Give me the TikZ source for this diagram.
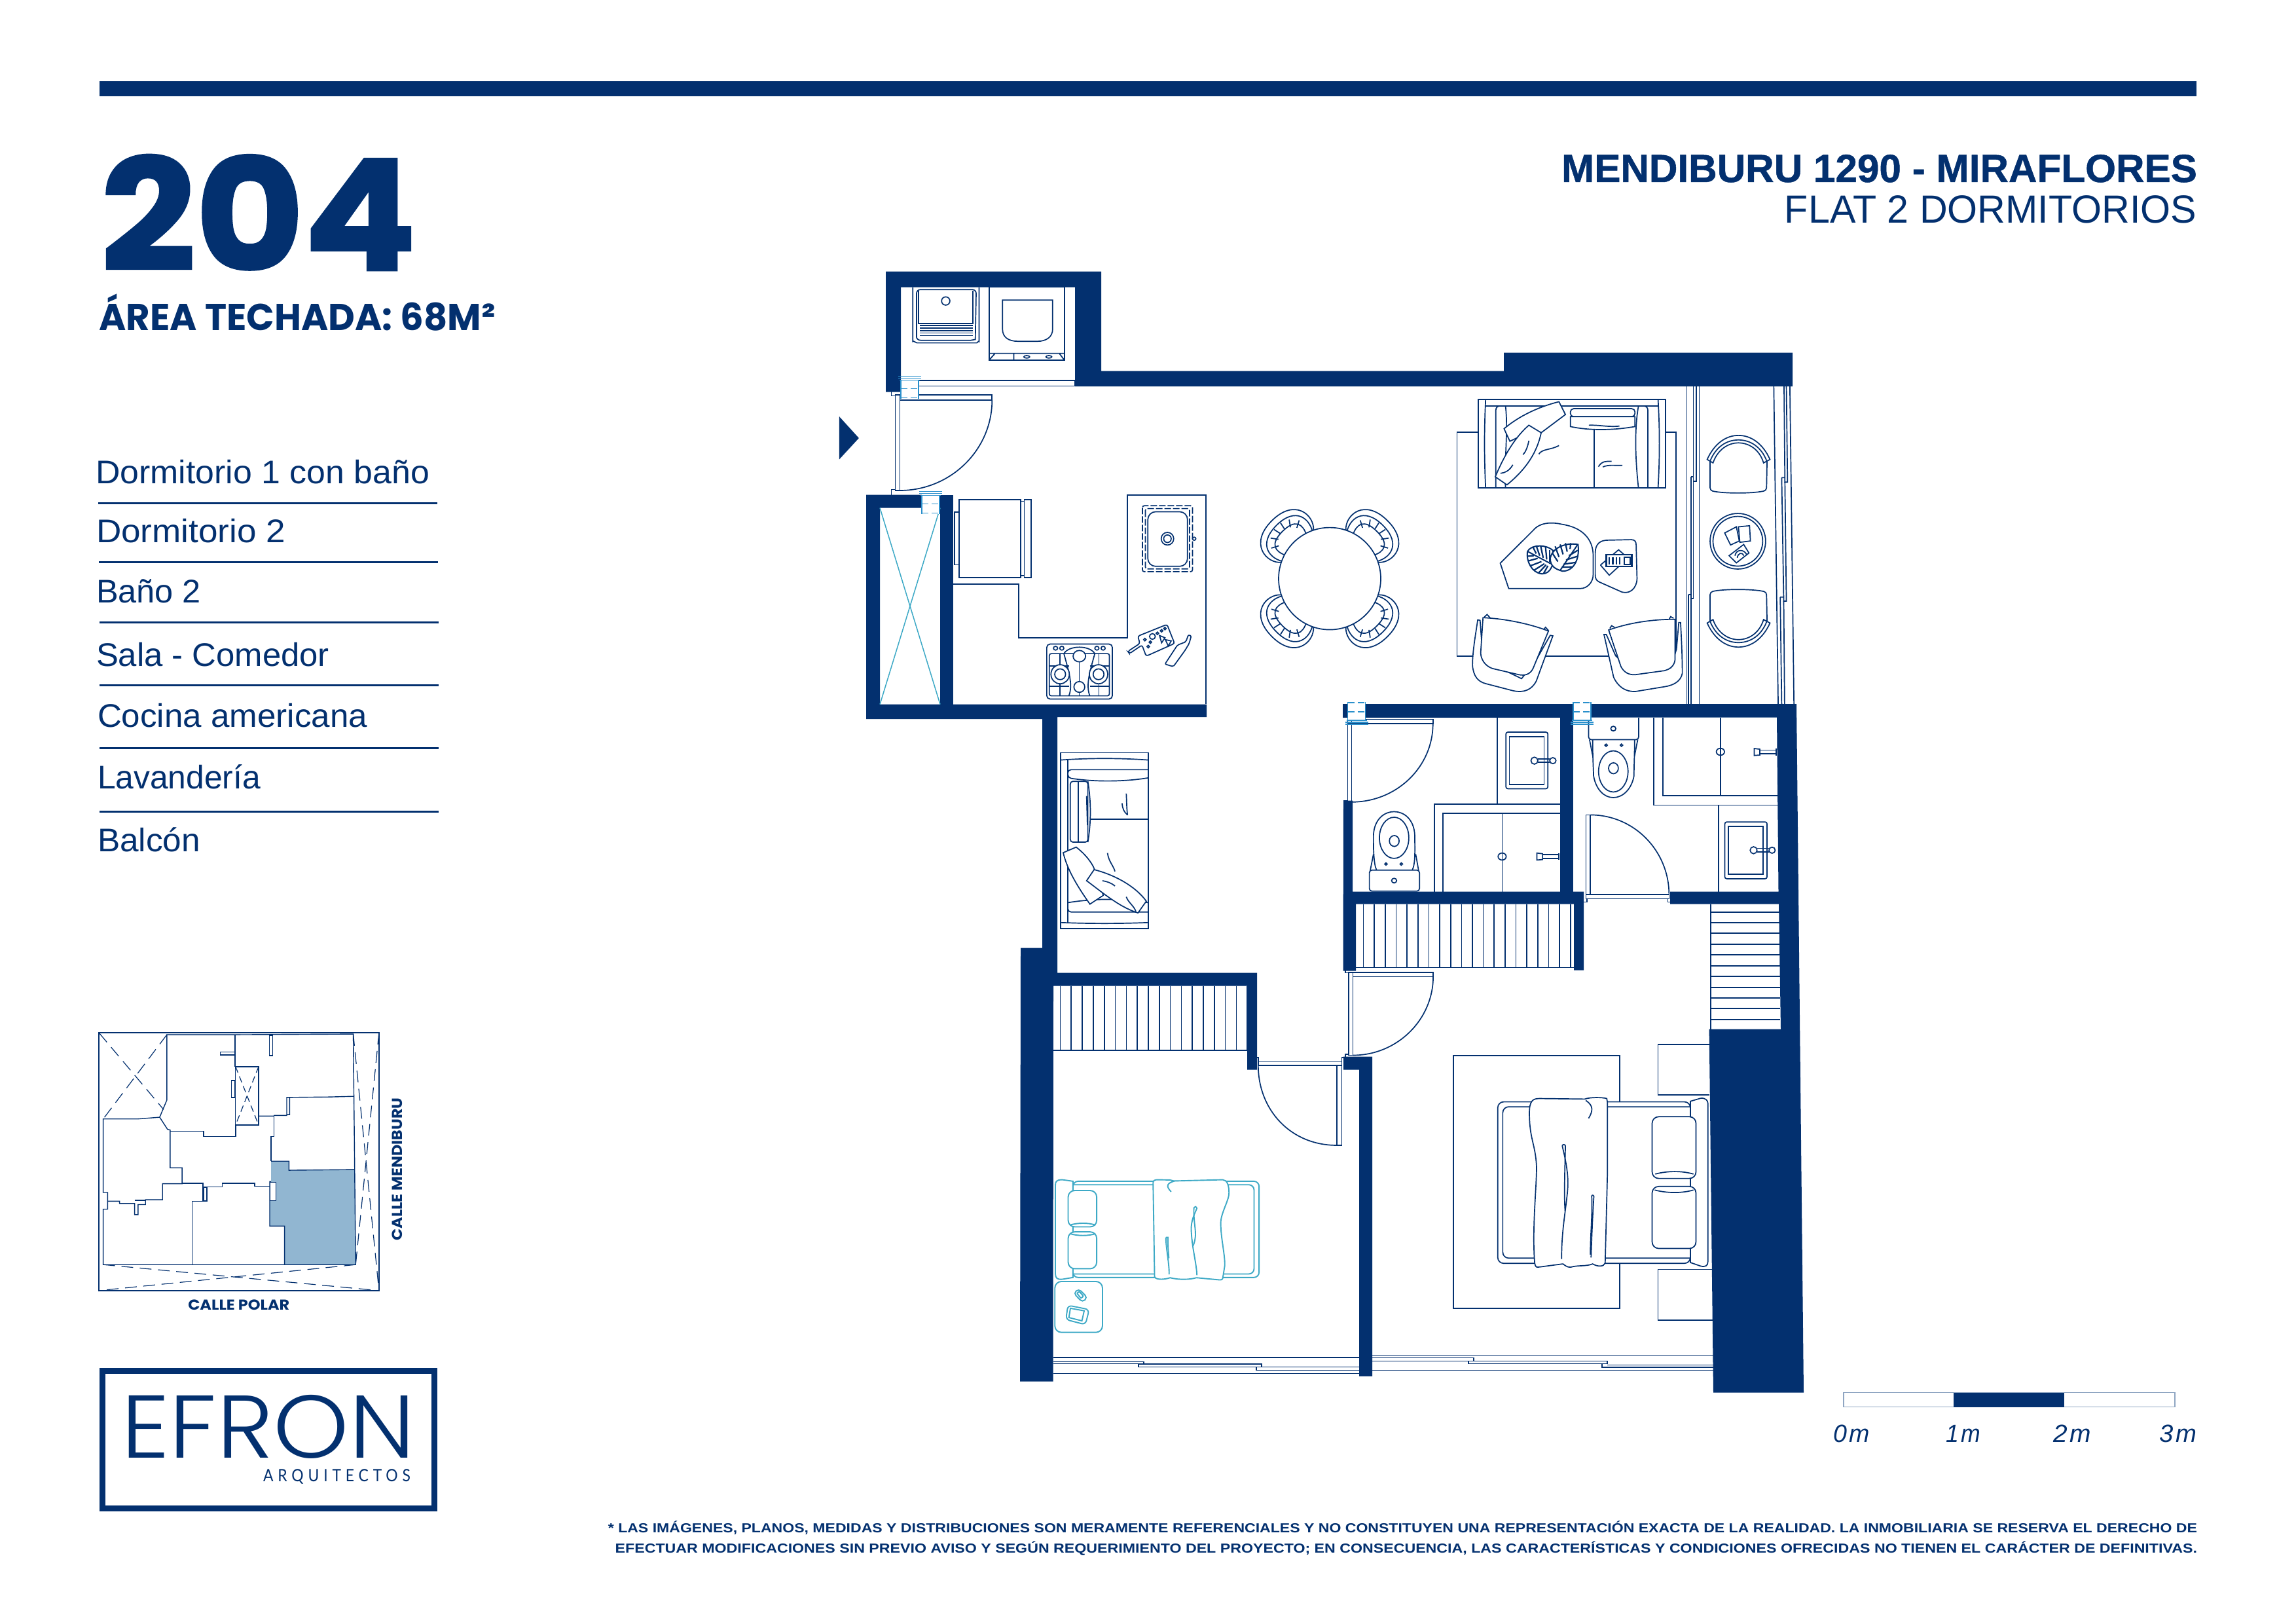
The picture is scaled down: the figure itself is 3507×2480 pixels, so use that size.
\documentclass[tikz,border=0pt]{standalone}
\usepackage{fontspec}
\usepackage{graphicx}
\setmainfont{Liberation Sans}
\newfontfamily\popfont[FakeBold=1.6]{Poppins Bold}
\newfontfamily\popbold{Poppins}[BoldFont=* Bold]
\newfontfamily\logofont{Poppins Light}
\newfontfamily\arqfont{Lato}
\newfontfamily\headfont[FakeBold=0.8]{Liberation Sans Bold}
\newcommand\fitw[2]{\resizebox{#1pt}{\height}{#2}}
\definecolor{navy}{HTML}{03306F}
\definecolor{tealc}{HTML}{3DA9C6}
\definecolor{fixc}{HTML}{2A90CC}
\definecolor{siteblue}{HTML}{91B6D1}
\definecolor{barline}{HTML}{8FA5C2}
\tikzset{
 z1/.style={shift={(1250,380)},x=.6378pt,y=-.4847pt},
 z2/.style={shift={(2150,500)},x=.4464pt,y=-.4082pt},
 z3/.style={shift={(1550,1080)},x=.6378pt,y=-.4464pt},
 z4/.style={shift={(2050,1060)},x=.4783pt,y=-.3571pt},
 z5/.style={shift={(1550,1560)},x=.3827pt,y=-.3827pt},
 z6/.style={shift={(2050,1500)},x=.4783pt,y=-.4209pt},
 z7/.style={shift={(130,1560)},x=.3330pt,y=-.3360pt},
 wall/.style={fill=navy,draw=none},
 ln/.style={draw=navy,line width=1.7pt},
 lnf/.style={draw=navy,line width=1.7pt,fill=white},
 tl/.style={draw=tealc,line width=1.9pt},
 tlf/.style={draw=tealc,line width=1.9pt,fill=white},
 txt/.style={inner sep=0pt,outer sep=0pt,text=navy,anchor=base west},
 txe/.style={inner sep=0pt,outer sep=0pt,text=navy,anchor=base east},
}
\newcommand\bfix[3]{\begin{scope}[shift={(#1,#2)},yscale=#3]
 \fill[white] (0,6) rectangle (27,34);
 \draw[fixc,line width=1.6pt] (-4,0)--(31,0) (-4,3)--(31,3) (-2,6)--(29,6);
 \draw[fixc,line width=1.6pt] (0,6)--(0,34) (27,6)--(27,34);
 \draw[fixc,line width=1.6pt,dash pattern=on 10pt off 5pt] (0,19)--(27,19) (0,33)--(27,33);
\end{scope}}
\newcommand\balchair{
 \draw[ln,rounded corners=4pt] (1035,497)--(1035,606)..controls (1080,618) and (1180,618) .. (1228,606)--(1230,497);
 \draw[lnf] (1025,490) .. controls (1050,430) and (1090,400) .. (1132,400) .. controls (1175,400) and (1215,430) .. (1240,490)--(1218,503) .. controls (1205,455) and (1170,428) .. (1132,428) .. controls (1095,428) and (1060,455) .. (1045,503)--cycle;
 \draw[ln] (1035,496) .. controls (1055,442) and (1092,417) .. (1132,417) .. controls (1172,417) and (1210,442) .. (1229,496);
}
\newcommand\dchair{
 \draw[ln] (70,35) .. controls (85,52) and (125,50) .. (125,0) .. controls (125,-50) and (85,-52) .. (70,-35);
 \draw[ln] (66,30) .. controls (85,44) and (115,42) .. (115,0) .. controls (115,-42) and (85,-44) .. (66,-30)--(70,-35);
 \draw[ln] (66,30)--(70,35);
 \draw[ln] (72,22) .. controls (88,30) and (102,28) .. (102,0) .. controls (102,-28) and (88,-30) .. (72,-22);
 \foreach \a in {-62,-36,-12,12,36,62}{\draw[ln] ($(80,0)+(\a:22)$)--($(80,0)+(\a:34)$);}
}
\usetikzlibrary{calc}
\begin{document}
\begin{tikzpicture}[x=1pt,y=-1pt,line join=miter]
\useasboundingbox (0,0) rectangle (3507,2480);
\fill[white] (0,0) rectangle (3507,2480);
\begin{scope}[yshift=-1.6pt]
% header
\fill[navy] (152,122) rectangle (3355,145);
\node[txt] (num) at (154,411) {\popfont\fontsize{236}{236}\selectfont\fitw{482}{204}};
\node[txt] (area) at (151.6,502.7) {\popbold\bfseries\fontsize{57}{60}\selectfont\fitw{605}{ÁREA TECHADA: 68M²}};
\node[txe] (t1) at (3356,276.4) {\headfont\fontsize{60}{60}\selectfont\fitw{971}{MENDIBURU 1290 - MIRAFLORES}};
\node[txe] (t2) at (3355,339.4) {\fontsize{60}{60}\selectfont\fitw{629}{FLAT 2 DORMITORIOS}};
% list
\tikzset{lst/.style={txt,font=\fontsize{50}{50}\selectfont}}
\node[lst] (l1) at (146,737) {\fitw{510}{Dormitorio 1 con baño}};
\node[lst] (l2) at (147,827) {\fitw{289}{Dormitorio 2}};
\node[lst] (l3) at (147,919) {\fitw{160}{Baño 2}};
\node[lst] (l4) at (147,1016) {\fitw{356}{Sala - Comedor}};
\node[lst] (l5) at (149,1109) {\fitw{412}{Cocina americana}};
\node[lst] (l6) at (149,1203) {\fitw{249}{Lavandería}};
\node[lst] (l7) at (149,1299) {\fitw{157}{Balcón}};
\draw[navy,line width=3pt] (150,766.5)--(668,766.5) (151,857)--(669,857) (152,949)--(670,949) (152,1044.6)--(670,1044.6) (152,1141)--(670,1141) (152,1238)--(670,1238);

% ---------- walls
\fill[wall] (1353,413)--(1682,413)--(1682,565)--(2297,565)--(2297,537)--(2738,537)--(2738,588.6)--(1642,588.6)--(1642,437)--(1376,437)--(1376,597)--(1353,597)--cycle;
\fill[wall] (1323,754)--(1408,754)--(1408,774)--(1344,774)--(1344,1074)--(1843,1074)--(1843,1093.5)--(1615,1093.5)--(1615,1484)--(1920,1484)--(1920,1632)--(1905,1632)--(1905,1504)--(1609,1504)--(1608.5,2108)--(1558,2108)--(1559,1446)--(1592,1446)--(1592,1096.5)--(1323,1096.5)--cycle;
\fill[wall] (1436,754) rectangle (1456,1074);
\fill[wall] (2052,1612)--(2096,1612)--(2096,2100)--(2076,2100)--(2076,1632)--(2052,1632)--cycle;
\fill[wall] (2051,1073.6) rectangle (2403,1094);
\fill[wall] (2383,1094) rectangle (2403,1360);
\fill[wall] (2052,1221)--(2066,1221)--(2066,1360)--(2419,1360)--(2419,1480)--(2404,1480)--(2404,1379)--(2071,1379)--(2071,1481)--(2051.5,1481)--cycle;
\fill[wall] (2430,1073.6)--(2744,1073.6)--(2755,2125)--(2617,2125)--(2610.6,1570)--(2720,1570)--(2717,1379)--(2551,1379)--(2551,1360)--(2716.5,1360)--(2714,1094)--(2430,1094)--cycle;

% ---------- z1: laundry, entry, kitchen, dining
\begin{scope}[z1]
 % entry mark
 \fill[navy] (50,525)--(97,593)--(50,660)--cycle;
 % laundry sink
 \draw[ln,rounded corners=9pt] (226,118)--(226,270) .. controls (226,285) and (235,293) .. (250,293)--(365,293) .. controls (380,293) and (385,285) .. (385,270)--(385,118);
 \draw[ln,rounded corners=6pt] (235,125)--(378,125)--(376,270) .. controls (376,282) and (365,285) .. (355,285)--(255,285) .. controls (240,285) and (235,280) .. (235,262)--cycle;
 \draw[ln] (240,128)--(240,232)--(370,232)--(370,128);
 \foreach \y in {238,246,254,262,270}{\draw[ln] (243,\y)--(370,\y);}
 \draw[ln] (305,161) ellipse [x radius=10,y radius=13];
 % washer
 \draw[ln] (409,117) rectangle (589,347);
 \draw[ln] (409,326)--(589,326) (468,326)--(468,347) (409,347)--(422,328) (589,347)--(578,328);
 \draw[ln] (441,158)--(561,158)--(561,250) .. controls (561,275) and (545,288) .. (525,288)--(478,288) .. controls (455,288) and (441,275) .. (441,250)--cycle;
 \draw[ln] (499,337) ellipse [x radius=7,y radius=4] (552,337) ellipse [x radius=7,y radius=4];
 % laundry sill
 \draw[ln] (240,411) rectangle (615,429);
 % entry door
 \draw[ln] (184,457) rectangle (195,758);
 \draw[ln] (184,460)--(175,460)--(175,447) (184,755)--(175,755)--(175,772);
 \draw[ln] (195,457) rectangle (416,473);
 \draw[ln] (416,473) .. controls (416,630) and (317,758) .. (195,758);
 % fridge
 \draw[ln] (337,787) rectangle (484,1032);
 \draw[ln] (493,787) rectangle (509,1032);
 \draw[ln] (484,792)--(493,792) (484,1026)--(493,1026);
 \draw[ln] (326,826) rectangle (337,992);
 % counter
 \draw[ln] (323,1053)--(480,1053)--(480,1222)--(740,1222)--(740,772)--(928,772)--(928,1431);
 % kitchen sink
 \draw[ln,dashed,dash pattern=on 10pt off 3pt,rounded corners=3pt] (776,806) rectangle (896,1014);
 \draw[ln,dashed,dash pattern=on 10pt off 3pt,rounded corners=3pt] (783,815) rectangle (889,1005);
 \draw[lnf,rounded corners=12pt] (789,825) rectangle (884,997);
 \draw[ln] (836,910) ellipse [x radius=15,y radius=20] (836,910) ellipse [x radius=9,y radius=12];
 \draw[ln] (900,910) ellipse [x radius=4,y radius=5];
 % hob
 \draw[ln,rounded corners=5pt] (547,1242) rectangle (704,1415);
 \draw[ln,rounded corners=3pt] (553,1272) rectangle (697,1405);
 \foreach \x in {568,583,667,682}{\draw[ln] (\x,1255) ellipse [x radius=5,y radius=6];}
 \draw[ln] (588,1272) .. controls (600,1330) and (610,1370) .. (600,1405);
 \draw[ln] (662,1272) .. controls (650,1330) and (640,1370) .. (650,1405);
 \draw[ln] (588,1272) .. controls (600,1245) and (650,1245) .. (662,1272);
 \draw[ln] (553,1311)--(600,1311) (650,1311)--(697,1311) (553,1375)--(600,1375) (650,1375)--(697,1375) (578,1272)--(578,1405) (672,1272)--(672,1405) (625,1272)--(625,1405);
 \draw[lnf] (625,1280) ellipse [x radius=15,y radius=18];
 \draw[lnf] (579,1337) ellipse [x radius=22,y radius=30];
 \draw[ln] (579,1337) ellipse [x radius=13,y radius=17];
 \draw[lnf] (671,1337) ellipse [x radius=22,y radius=30];
 \draw[ln] (671,1337) ellipse [x radius=13,y radius=17];
 \draw[lnf] (625,1377) ellipse [x radius=13,y radius=17];
 % board + bottle
 \draw[ln,rounded corners=3pt] (765,1217)--(835,1180)--(853,1240)--(785,1280)--(775,1245)--(745,1272)--(741,1265)--(770,1240)--cycle;
 \foreach \p/\q in {790/1250,782/1228,812/1208,822/1200,830/1193,795/1236}{\draw[ln] (\p,\q) ellipse [x radius=3,y radius=4];}
 \draw[ln] (800,1218) ellipse [x radius=7,y radius=9];
 \draw[ln] (817,1215)--(830,1222)--(822,1238)--cycle (831,1228)--(845,1232)--(838,1248)--cycle;
 \draw[ln,rounded corners=2pt] (830,1305)--(860,1245)--(880,1235)--(886,1213)--(893,1216)--(888,1240)--(878,1262)--(850,1313)--cycle;
\end{scope}
\begin{scope}[shift={(2031,882)},rotate=45]\dchair\end{scope}
\begin{scope}[shift={(2031,882)},rotate=135]\dchair\end{scope}
\begin{scope}[shift={(2031,882)},rotate=225]\dchair\end{scope}
\begin{scope}[shift={(2031,882)},rotate=-45]\dchair\end{scope}
\draw[lnf] (2031,882) circle (78);
\draw[tl,line width=1.5pt] (1344,774)--(1436,1074) (1436,774)--(1344,1074);
\bfix{1376}{573}{1}
\bfix{1408}{749}{1}

% ---------- z2: living, balcony
\begin{scope}[z2]
 \draw[ln] (169,388) rectangle (919,1225);
 % balcony sliding systems
 \draw[ln] (953,217)--(953,1405) (998,217)--(998,1405);
 \draw[ln] (978,217)--(978,572)--(988,572)--(988,217);
 \draw[ln] (970,555)--(978,555) (970,555)--(970,1010)--(978,1010)--(978,572);
 \draw[ln] (961,995)--(970,995) (961,995)--(961,1405) (970,1010)--(970,1405);
 \draw[ln] (1253,217)--(1268,1405) (1308,217)--(1322,1405);
 \draw[ln] (1288,217)--(1291,575)--(1300,575)--(1296,217);
 \draw[ln] (1280,558)--(1291,558) (1280,558)--(1287,1020)--(1296,1020)--(1291,575);
 \draw[ln] (1275,1005)--(1287,1005) (1275,1005)--(1280,1405) (1287,1020)--(1290,1405);
 % sofa
 \draw[lnf] (242,265) rectangle (883,597);
 \draw[ln] (267,290)--(857,290);
 \draw[ln] (267,265) .. controls (262,380) and (262,480) .. (267,597);
 \draw[ln] (857,265) .. controls (863,380) and (863,480) .. (857,597);
 \draw[ln,rounded corners=6pt] (302,597)--(302,290)--(822,290)--(822,597);
 \draw[ln] (335,290) .. controls (345,380) and (330,500) .. (335,597);
 \draw[ln] (790,290) .. controls (775,380) and (780,500) .. (790,597);
 \draw[ln] (639,375)--(639,597);
 \draw[lnf,rounded corners=5pt] (557,300) rectangle (778,330);
 \draw[lnf] (557,330)--(778,330)--(778,367) .. controls (700,382) and (620,382) .. (557,367)--cycle;
 \draw[ln] (620,362) .. controls (650,360) and (690,370) .. (725,365);
 \draw[ln] (449,470) .. controls (460,450) and (490,455) .. (518,438);
 \draw[ln] (653,517) .. controls (665,495) and (680,497) .. (698,497);
 \draw[ln] (668,518) .. controls (690,508) and (710,514) .. (735,512);
 \draw[lnf] (330,375) .. controls (390,320) and (460,290) .. (518,274)--(540,322)--(457,390)--(430,380)--(350,422)--cycle;
 \draw[lnf] (300,555) .. controls (340,450) and (380,395) .. (415,362)--(457,390) .. controls (440,480) and (390,540) .. (340,585)--cycle;
 \draw[ln] (415,420) .. controls (410,445) and (405,460) .. (395,472);
 \draw[ln] (360,510) .. controls (350,530) and (335,540) .. (318,542);
 % coffee tables
 \draw[lnf] (317,878)--(430,755) .. controls (455,722) and (500,725) .. (530,733) .. controls (600,745) and (635,790) .. (635,850)--(635,920) .. controls (635,950) and (615,973) .. (590,973)--(346,973)--cycle;
 \draw[lnf] (642,840) .. controls (642,805) and (660,792) .. (685,792)--(765,790) .. controls (778,790) and (782,798) .. (782,810)--(785,935) .. controls (785,975) and (755,1000) .. (725,982)--(655,948) .. controls (645,942) and (642,935) .. (642,920)--cycle;
 % leaves
 \draw[lnf,line width=2pt] (410,835) .. controls (420,810) and (470,805) .. (497,830) .. controls (505,880) and (490,918) .. (460,918) .. controls (425,915) and (405,870) .. (410,835)--cycle;
 \draw[ln,line width=2pt] (412,835)--(490,880);
 \foreach \a/\b/\c/\d in {428/816/440/842, 440/812/452/850, 455/812/464/858, 472/818/476/864, 486/828/486/872, 412/852/432/850, 412/870/445/860, 420/888/458/872, 432/905/468/880, 448/915/474/884, 465/917/480/888}{\draw[ln,line width=2.2pt] (\a,\b)--(\c,\d);}
 \draw[lnf,line width=2pt] (488,860) .. controls (495,820) and (540,800) .. (583,808) .. controls (590,860) and (570,908) .. (530,908) .. controls (505,900) and (488,890) .. (488,860)--cycle;
 \draw[ln,line width=2pt] (581,810)--(522,905);
 \foreach \a/\b/\c/\d in {505/815/518/855, 522/808/532/845, 540/803/546/835, 558/803/556/825, 495/840/514/872, 582/830/552/850, 582/852/542/866, 576/875/534/882, 566/892/528/893}{\draw[ln,line width=2.2pt] (\a,\b)--(\c,\d);}
 % book
 \draw[ln] (660,885)--(722,828)--(745,850) (660,885)--(690,923)--(722,891);
 \draw[lnf,line width=2.2pt] (680,846) rectangle (767,891);
 \foreach \x in {690,702,714,726}{\draw[ln,line width=2.4pt] (\x,855)--(\x,882);}
 \draw[ln,line width=2.2pt] (742,855) rectangle (762,882);
 % armchairs
 \draw[lnf] (240,1090)--(248,1092)--(258,1240)--(390,1310)--(440,1240)--(488,1148)--(497,1150)--(440,1320) .. controls (425,1350) and (400,1365) .. (360,1355)--(265,1328) .. controls (240,1320) and (225,1300) .. (222,1260) .. controls (222,1210) and (232,1150) .. (240,1090)--cycle;
 \draw[ln] (262,1080)--(272,1070)--(282,1082) (465,1126)--(472,1118)--(482,1130);
 \draw[lnf] (258,1082) .. controls (330,1085) and (420,1105) .. (482,1132)--(430,1270) .. controls (420,1295) and (400,1300) .. (380,1295)--(290,1272) .. controls (265,1262) and (252,1240) .. (250,1215)--cycle;
 \draw[lnf] (928,1100)--(934,1100) .. controls (938,1180) and (940,1240) .. (940,1290) .. controls (935,1320) and (910,1335) .. (880,1340)--(780,1358) .. controls (745,1360) and (720,1340) .. (705,1305)--(672,1145)--(680,1145)--(712,1225)--(780,1290)--(900,1270)--(920,1200)--cycle;
 \draw[ln] (692,1122)--(698,1112)--(708,1118) (895,1088)--(900,1078)--(910,1084);
 \draw[lnf] (688,1128) .. controls (760,1100) and (840,1088) .. (915,1088)--(915,1240) .. controls (912,1265) and (895,1275) .. (880,1280)--(780,1295) .. controls (755,1297) and (740,1285) .. (730,1265)--cycle;
 % balcony furniture
 \balchair
 \begin{scope}[shift={(0,1592)},yscale=-1]\balchair\end{scope}
 \draw[ln] (1130,796) ellipse [x radius=95,y radius=104] (1130,796) ellipse [x radius=85,y radius=93];
 \draw[ln] (1085,765)--(1125,742)--(1135,795)--(1105,810)--cycle;
 \draw[lnf] (1132,742)--(1170,738)--(1173,795)--(1137,800)--cycle;
 \draw[ln] (1100,850)--(1150,808)--(1168,840)--(1125,877)--cycle;
 \draw[ln] (1120,850) .. controls (1125,825) and (1150,825) .. (1160,845) (1128,858) .. controls (1130,840) and (1145,835) .. (1150,850);
\end{scope}

% ---------- z3: sofa 2
\begin{scope}[z3]
 \draw[ln] (110,152) rectangle (320,753);
 \draw[ln] (110,177) .. controls (180,170) and (250,170) .. (320,177);
 \draw[ln] (110,733) .. controls (180,737) and (250,737) .. (320,733);
 \draw[ln] (127,177)--(127,733);
 \draw[ln,rounded corners=5pt] (320,210)--(127,210)--(127,238) .. controls (190,252) and (260,252) .. (320,238);
 \draw[ln] (127,665) .. controls (190,650) and (260,650) .. (320,665);
 \draw[ln,rounded corners=5pt] (127,665)--(127,697)--(320,697);
 \draw[ln] (180,380)--(320,380);
 \draw[lnf,rounded corners=4pt] (133,250) rectangle (175,458);
 \draw[ln] (152,250)--(152,458) (175,250) .. controls (183,320) and (183,390) .. (175,458) (172,300)--(174,400);
 \draw[ln] (267,292) .. controls (268,320) and (268,345) .. (270,365);
 \draw[ln] (257,325) .. controls (258,345) and (262,355) .. (270,365);
 \draw[ln] (222,495) .. controls (225,525) and (235,535) .. (240,558);
 \draw[lnf] (116,494)--(147,475) .. controls (170,500) and (185,530) .. (190,548)--(212,640)--(180,670) .. controls (150,610) and (125,550) .. (116,494)--cycle;
 \draw[lnf] (172,590)--(190,552) .. controls (240,570) and (290,610) .. (315,660)--(295,700) .. controls (250,680) and (210,630) .. (172,590)--cycle;
 \draw[ln] (210,590) .. controls (220,592) and (232,598) .. (240,608);
 \draw[ln] (267,645) .. controls (272,665) and (285,675) .. (290,695);
\end{scope}

% ---------- z3: doors & closet dorm 2
\begin{scope}[z3]
 % closet
 \foreach \i in {0,...,17}{\pgfmathsetmacro\xx{109+\i*26.35}\draw[ln] (\xx,950)--(\xx,1170);}
 \draw[ln] (92,1170)--(557,1170);
 % door to dorm 2
 \draw[ln] (583,1207) rectangle (783,1222);
 \draw[ln] (771,1222) rectangle (783,1495);
 \draw[ln] (583,1222) .. controls (583,1373) and (660,1495) .. (771,1495);
 \draw[ln] (583,1207)--(583,1195)--(578,1195) (783,1207)--(783,1195)--(787,1195);
 % upper door dorm 1
 \draw[ln] (800,903) rectangle (810,1187);
 \draw[ln] (810,903) rectangle (1002,918);
 \draw[ln] (1002,918) .. controls (1002,1065) and (916,1187) .. (810,1187);
 \draw[ln] (800,905)--(792,905)--(792,897) (800,1184)--(792,1184)--(792,1192);
\end{scope}

% ---------- z4: bathrooms
\begin{scope}[z4]
 % door bath 1
 \draw[ln] (18,105) rectangle (30,457);
 \draw[ln] (18,103) rectangle (290,122);
 \draw[ln] (290,122) .. controls (290,307) and (174,457) .. (30,457);
 \draw[ln] (18,452)--(5,452)--(5,460);
 % counter + closet bath 1
 \draw[ln] (495,95)--(495,466) (295,840)--(295,466)--(696,466);
 \draw[ln] (322,840)--(322,505)--(696,505) (511,505)--(511,840);
 \draw[ln] (511,690) ellipse [x radius=13,y radius=15];
 \draw[ln] (622,675)--(640,678)--(640,703)--(622,705)--cycle;
 \draw[ln] (640,682)--(692,682) (640,698)--(692,698) (692,675)--(692,705);
 \draw[ln,rounded corners=3pt] (523,158) rectangle (657,400);
 \draw[ln] (534,178) rectangle (645,381);
 \draw[ln] (625,272)--(663,272) (625,287)--(663,287);
 \draw[lnf] (614,280) ellipse [x radius=11,y radius=15];
 \draw[lnf] (673,280) ellipse [x radius=10,y radius=13];
 % toilet bath 1
 \draw[ln,rounded corners=4pt] (87,838)--(87,748)--(247,748)--(247,838)--cycle;
 \draw[ln] (166,793) ellipse [x radius=8,y radius=10];
 \draw[ln] (90,748)--(100,680) (244,748)--(235,680);
 \draw[ln] (110,748) .. controls (100,720) and (100,650) .. (100,600) .. controls (102,530) and (135,498) .. (166,498) .. controls (197,498) and (230,530) .. (232,600) .. controls (232,650) and (235,720) .. (224,748);
 \draw[ln] (166,610) ellipse [x radius=47,y radius=88];
 \draw[ln,rounded corners=8pt] (151,600) rectangle (182,647);
 \draw[ln] (140,722) ellipse [x radius=4,y radius=5] (189,722) ellipse [x radius=4,y radius=5];
 % toilet bath 2
 \draw[ln,rounded corners=4pt] (787,97)--(787,190)--(947,190)--(947,97);
 \draw[ln] (866,143) ellipse [x radius=8,y radius=10];
 \draw[ln] (790,190)--(800,258) (944,190)--(934,258);
 \draw[ln] (800,190) .. controls (800,260) and (802,300) .. (803,345) .. controls (810,400) and (835,438) .. (866,438) .. controls (897,438) and (925,400) .. (932,345) .. controls (932,300) and (934,260) .. (934,190);
 \draw[ln] (866,326) ellipse [x radius=47,y radius=88];
 \draw[ln,rounded corners=8pt] (851,289) rectangle (882,336);
 \draw[ln] (843,214) ellipse [x radius=4,y radius=5] (892,214) ellipse [x radius=4,y radius=5];
 % closet + sink bath 2
 \draw[ln] (995,95)--(995,470)--(1392,470) (1025,95)--(1025,430)--(1390,430) (1208,95)--(1208,430) (1202,470)--(1202,840);
 \draw[ln] (1208,242) ellipse [x radius=13,y radius=15];
 \draw[ln] (1316,228)--(1334,231)--(1334,256)--(1316,258)--cycle;
 \draw[ln] (1334,235)--(1386,235) (1334,251)--(1386,251) (1386,228)--(1386,258);
 \draw[ln,rounded corners=3pt] (1222,542) rectangle (1357,785);
 \draw[ln] (1234,562) rectangle (1345,765);
 \draw[ln] (1325,655)--(1363,655) (1325,670)--(1363,670);
 \draw[lnf] (1314,663) ellipse [x radius=11,y radius=15];
 \draw[lnf] (1373,663) ellipse [x radius=10,y radius=13];
 % door bath 2
 \draw[ln] (779,512) rectangle (793,853);
 \draw[ln] (793,512) .. controls (932,512) and (1044,665) .. (1044,853);
 \draw[ln] (779,853) rectangle (1044,871);
 \draw[ln] (771,885)--(782,885)--(782,871) (1047,885)--(1040,885)--(1040,871);
 % closet dorm 1
 \foreach \i in {0,...,19}{\pgfmathsetmacro\xx{68+\i*34.8}\draw[ln] (\xx,893)--(\xx,1165);}
 \draw[ln] (44,1165)--(741,1165);
 % closet right horizontal
 \draw[ln] (1177,893)--(1177,1428);
 \foreach \y in {928,973,1018,1066,1110,1157,1203,1250,1295,1340,1387}{\draw[ln] (1177,\y)--(1398,\y);}
\end{scope}
\bfix{2058.6}{1104.6}{-1}
\bfix{2403}{1104.6}{-1}

% ---------- z5: dorm 2 bed (teal), window
\begin{scope}[z5]
 \draw[tlf,rounded corners=8pt] (232,633)--(975,633)--(975,1017)--(232,1017)--cycle;
 \draw[tl,rounded corners=8pt] (232,647)--(955,647)--(955,1003)--(232,1003);
 \draw[tlf] (232,633)--(190,627) .. controls (165,627) and (162,635) .. (162,650)--(162,1002) .. controls (162,1020) and (170,1026) .. (190,1024)--(232,1017)--cycle;
 \draw[tlf,rounded corners=10pt] (213,670) rectangle (327,815);
 \draw[tl] (220,808) .. controls (250,798) and (295,798) .. (322,808);
 \draw[tlf,rounded corners=10pt] (213,835) rectangle (327,982);
 \draw[tl] (220,842) .. controls (250,852) and (295,852) .. (322,842);
 \draw[tlf] (552,640) .. controls (552,628) and (560,627) .. (575,627)--(620,628)--(635,632)--(830,627) .. controls (848,628) and (855,650) .. (855,680) .. controls (855,710) and (822,760) .. (822,800) .. controls (822,860) and (840,930) .. (838,970)--(830,1020) .. controls (828,1028) and (820,1027) .. (810,1026)--(725,1018) .. controls (700,1025) and (660,1028) .. (620,1018) .. controls (600,1025) and (565,1028) .. (558,1015)--cycle;
 \draw[tl] (638,632) .. controls (610,640) and (600,650) .. (624,675);
 \draw[tl] (727,740) .. controls (720,760) and (700,790) .. (705,840) .. controls (708,900) and (725,960) .. (727,1008);
 \draw[tl] (715,738) .. controls (712,790) and (725,830) .. (720,860) .. controls (718,875) and (714,885) .. (712,890);
 \draw[tl] (715,738) .. controls (718,733) and (727,733) .. (727,740);
 \draw[tl] (603,857) .. controls (603,900) and (617,960) .. (616,1005);
 \draw[tl] (603,857)--(611,857) .. controls (611,890) and (613,920) .. (615,940);
 \draw[tl,rounded corners=10pt] (160,1033) rectangle (350,1236);
 \draw[tl,rounded corners=5pt] (235,1080)--(255,1062)--(290,1097)--(270,1116)--cycle;
 \draw[tl,rounded corners=1pt] (248,1080)--(258,1073)--(274,1092)--(264,1100)--cycle;
 \draw[tl,rounded corners=6pt] (212,1128)--(297,1145)--(282,1205)--(204,1185)--cycle;
 \draw[tl] (222,1140)--(277,1150)--(268,1190)--(216,1177)--cycle;
\end{scope}
% windows
\draw[ln] (1608.5,2071.7)--(2076,2071.7) (1608.5,2095.8)--(2076,2095.8);
\draw[ln] (1608.5,2077.8)--(1747,2077.8)--(1747,2081)--(1608.5,2081);
\draw[ln] (1739,2081.6) rectangle (1927,2086);
\draw[ln] (1919,2086)--(1919,2090.8)--(2076,2090.8) (1927,2086)--(2076,2086);
\draw[ln] (2096,2068)--(2617,2068) (2096,2091)--(2617,2091);
\draw[ln] (2096,2072)--(2251,2072)--(2251,2077)--(2096,2077);
\draw[ln] (2243,2077) rectangle (2455,2081);
\draw[ln] (2447,2081)--(2447,2086.5)--(2617,2086.5) (2455,2083)--(2617,2083);

% ---------- z6: dorm 1
\begin{scope}[z6]
 \draw[ln] (355,262) rectangle (887,1180);
 \draw[ln] (1173,222)--(1009,222)--(1009,405)--(1173,405);
 \draw[ln] (1183,1038)--(1009,1038)--(1009,1222)--(1183,1222);
 \draw[lnf,rounded corners=9pt] (1112,430)--(497,430)--(497,1016)--(1112,1016)--cycle;
 \draw[ln,rounded corners=9pt] (1112,448)--(513,448)--(513,997)--(1112,997);
 \draw[lnf] (1112,428)--(1145,417) .. controls (1160,415) and (1168,425) .. (1168,435)--(1168,1010) .. controls (1168,1025) and (1160,1030) .. (1145,1026)--(1112,1013)--cycle;
 \draw[lnf,rounded corners=10pt] (990,484) rectangle (1130,708);
 \draw[ln] (1000,692) .. controls (1040,680) and (1085,680) .. (1122,692);
 \draw[lnf,rounded corners=10pt] (990,737) rectangle (1130,962);
 \draw[ln] (998,750) .. controls (1040,762) and (1085,762) .. (1122,750);
 \draw[lnf] (598,470) .. controls (598,425) and (610,418) .. (630,418)--(775,420) .. controls (790,413) and (830,413) .. (845,418)--(847,430)--(847,700)--(840,1015) .. controls (835,1030) and (815,1028) .. (800,1018) .. controls (780,1028) and (750,1022) .. (730,1030) .. controls (715,1030) and (712,1022) .. (705,1018)--(625,1030) .. controls (618,1030) and (617,1025) .. (615,1015) .. controls (605,880) and (625,700) .. (620,650) .. controls (615,580) and (598,560) .. (598,470)--cycle;
 \draw[ln] (778,425) .. controls (805,445) and (800,465) .. (787,490);
 \draw[ln] (703,590) .. controls (702,585) and (712,582) .. (713,590) .. controls (712,650) and (708,770) .. (712,825);
 \draw[ln] (703,590) .. controls (710,625) and (725,690) .. (720,750) .. controls (715,820) and (700,900) .. (701,1000);
 \draw[ln] (797,770) .. controls (797,768) and (804,768) .. (804,772) .. controls (800,840) and (797,920) .. (795,995);
 \draw[ln] (797,770) .. controls (800,840) and (792,920) .. (793,985);
\end{scope}

% ---------- site plan
\begin{scope}[z7]
 \fill[siteblue] (853,630)--(935,630)--(935,671)--(1237,668)--(1241,1100)--(915,1100)--(915,925)--(847,925)--(847,722)--(853,722)--cycle;
 \fill[white] (849,726) rectangle (875,810);
 \tikzset{sl/.style={draw=navy,line width=1.4pt},sd/.style={draw=navy,line width=1.2pt,dash pattern=on 18pt off 10pt}}
 \draw[sl] (63,46) rectangle (1348,1218);
 \draw[sl] (375,55)--(688,55)--(1230,52)--(1241,1100)--(83,1100)--(83,848)--(103,848)--(103,772)--(83,772)--(83,438)--(240,438)--(342,430)--(375,352)--cycle;
 \draw[sl] (342,430)--(378,485)--(390,488)--(390,660)--(445,660)--(445,732)--(355,732)--(355,805)--(277,805)--(277,827)--(243,827)--(243,873)--(227,873)--(227,822)--(158,822)--(158,812)--(103,812);
 \draw[sl] (227,808)--(277,808);
 \draw[sl] (688,55)--(688,200);
 \draw[sl] (620,133) rectangle (686,147);
 \draw[sl] (845,58) rectangle (860,150);
 \draw[sl] (671,263) rectangle (686,340);
 \draw[sl] (690,200) rectangle (796,466);
 \draw[sd,dash pattern=on 10pt off 6pt] (690,200)--(796,466) (796,200)--(690,466);
 \draw[sl] (390,493)--(544,493)--(544,517)--(691,517)--(691,466);
 \draw[sl] (796,425)--(866,425) (866,422)--(925,422)--(925,340)--(938,340)--(1120,338)--(1234,335) (938,340)--(938,418)--(925,418);
 \draw[sl] (866,422)--(866,517)--(853,517)--(853,630);
 \draw[sl] (853,630)--(935,630)--(935,671)--(1237,668) (915,1100)--(915,925)--(847,925)--(847,722)--(853,722);
 \draw[sl] (849,726) rectangle (875,810);
 \draw[sl] (445,730)--(540,730)--(540,747)--(630,747)--(630,730)--(778,730)--(778,743)--(847,743);
 \draw[sl] (491,1100)--(491,813)--(543,813)--(543,750);
 \draw[sl] (541,750) rectangle (558,811);
 \draw[sd] (65,48)--(360,395) (375,55)--(83,438);
 \draw[sd] (1230,52)--(1348,1218) (1348,46)--(1241,1100);
 \draw[sd] (83,1100)--(1348,1218) (1241,1100)--(63,1218);
 \node[txt,anchor=base] (cp) at (705,1306) {\popbold\bfseries\fontsize{22}{22}\selectfont\fitw{155}{CALLE POLAR}};
\end{scope}
\node[txt,anchor=base west,rotate=90] (cm) at (614,1893) {\popbold\bfseries\fontsize{22}{22}\selectfont\fitw{218}{CALLE MENDIBURU}};

% ---------- logo
\draw[navy,line width=9pt] (156.5,2091.5) rectangle (663.5,2301.5);
\node[txt] (lg) at (185,2225) {\logofont\fontsize{136}{136}\selectfont\fitw{449}{EFRON}};
\node[txt] (lg2) at (402,2261) {\arqfont\addfontfeature{LetterSpace=30}\fontsize{26}{26}\selectfont\fitw{225}{ARQUITECTOS}};

% ---------- scale bar
\draw[barline,line width=1.2pt] (2816,2125) rectangle (3322,2147);
\fill[navy] (2984,2125) rectangle (3153,2147);
\tikzset{sc/.style={txt,font=\itshape\fontsize{38}{38}\selectfont\addfontfeature{LetterSpace=10}}}
\node[sc] (s0) at (2800,2201) {\fitw{56}{0m}};
\node[sc] (s1) at (2972,2201) {\fitw{53}{1m}};
\node[sc] (s2) at (3136,2201) {\fitw{58}{2m}};
\node[sc] (s3) at (3298,2201) {\fitw{57}{3m}};

% ---------- disclaimer
\tikzset{dc/.style={txe,font=\bfseries\fontsize{20}{20}\selectfont}}
\node[dc] (d1) at (3356,2339) {\fitw{2427}{* LAS IMÁGENES, PLANOS, MEDIDAS Y DISTRIBUCIONES SON MERAMENTE REFERENCIALES Y NO CONSTITUYEN UNA REPRESENTACIÓN EXACTA DE LA REALIDAD. LA INMOBILIARIA SE RESERVA EL DERECHO DE}};
\node[dc] (d2) at (3356,2370) {\fitw{2416}{EFECTUAR MODIFICACIONES SIN PREVIO AVISO Y SEGÚN REQUERIMIENTO DEL PROYECTO; EN CONSECUENCIA, LAS CARACTERÍSTICAS Y CONDICIONES OFRECIDAS NO TIENEN EL CARÁCTER DE DEFINITIVAS.}};
\end{scope}
\end{tikzpicture}
\end{document}
